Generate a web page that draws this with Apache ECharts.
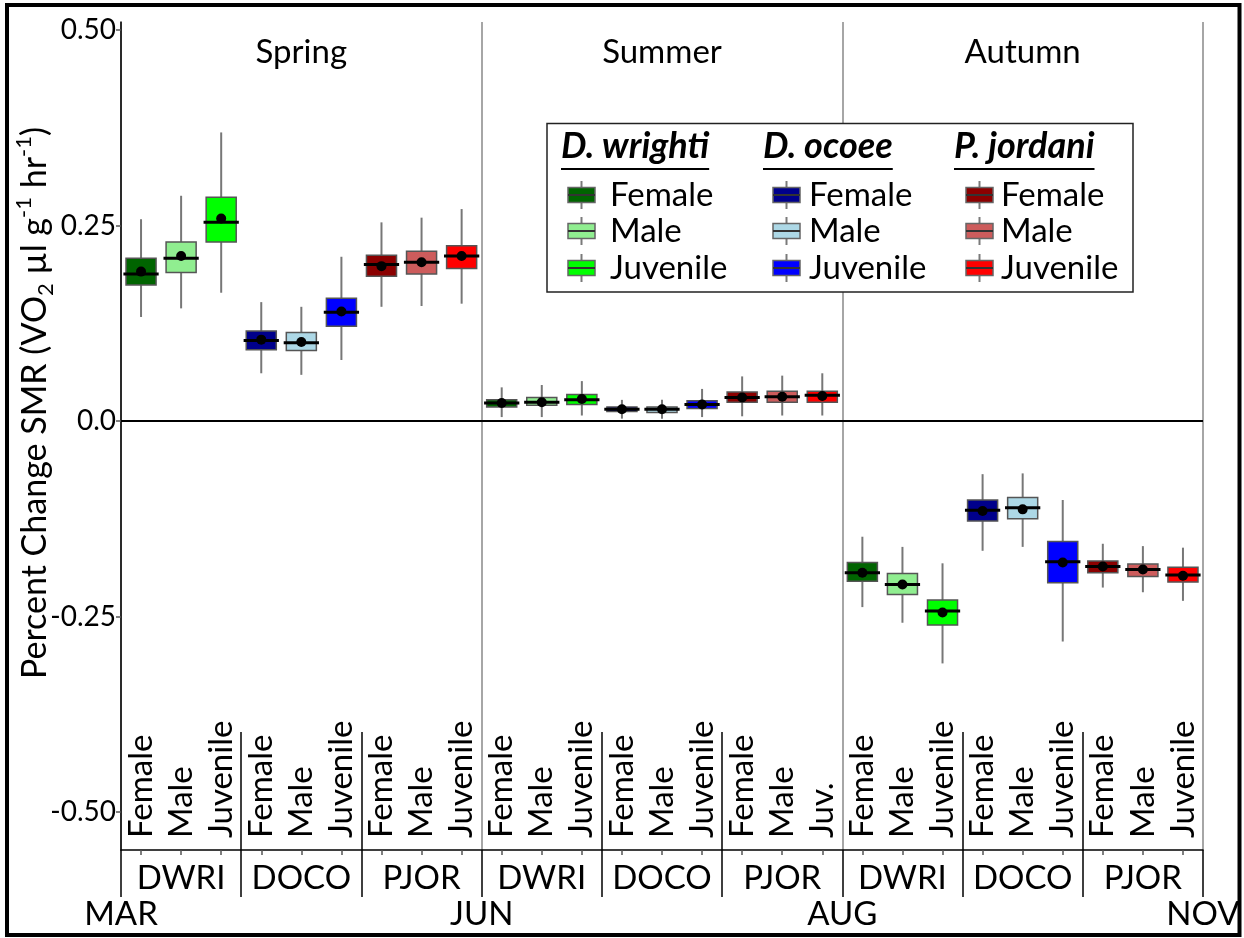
<!DOCTYPE html>
<html>
<head>
<meta charset="utf-8">
<script src="https://cdn.jsdelivr.net/npm/echarts@6/dist/echarts.min.js"></script>
<style>
  html, body { margin: 0; padding: 0; background: #fff; }
  #chart { width: 1244px; height: 938px; }
</style>
</head>
<body>
<div id="chart"></div>
<script>
const FONT = 'Lato';

const seasons = ['Spring', 'Summer', 'Autumn'];
const months = ['MAR', 'JUN', 'AUG', 'NOV'];
const speciesCodes = ['DWRI', 'DOCO', 'PJOR', 'DWRI', 'DOCO', 'PJOR', 'DWRI', 'DOCO', 'PJOR'];
const speciesNames = ['D. wrighti', 'D. ocoee', 'P. jordani'];
const sexes = ['Female', 'Male', 'Juvenile'];

// one rotated label per box along the bottom axis
const boxLabels = [
  'Female', 'Male', 'Juvenile', 'Female', 'Male', 'Juvenile', 'Female', 'Male', 'Juvenile',
  'Female', 'Male', 'Juvenile', 'Female', 'Male', 'Juvenile', 'Female', 'Male', 'Juv.',
  'Female', 'Male', 'Juvenile', 'Female', 'Male', 'Juvenile', 'Female', 'Male', 'Juvenile'
];

// boundaries (in box units) between species blocks and between seasons
const groupBounds = [0, 3, 6, 9, 12, 15, 18, 21, 24, 27];
const innerBounds = [3, 6, 12, 15, 21, 24];
const monthBounds = [0, 9, 18, 27];

const yTicks = [-0.5, -0.25, 0, 0.25, 0.5];
const yTickLabels = ['-0.50', '-0.25', '0.0', '0.25', '0.50'];

// rows: Spring, Summer, Autumn
// columns: lower whisker, Q1, median, Q3, upper whisker, mean
const dwriFemale = [
  [0.133, 0.174, 0.188, 0.208, 0.258, 0.191],
  [0.005, 0.018, 0.023, 0.027, 0.043, 0.023],
  [-0.238, -0.205, -0.194, -0.181, -0.148, -0.194]
];
const dwriMale = [
  [0.144, 0.190, 0.208, 0.229, 0.288, 0.211],
  [0.005, 0.020, 0.024, 0.030, 0.046, 0.024],
  [-0.258, -0.222, -0.209, -0.195, -0.161, -0.209]
];
const dwriJuvenile = [
  [0.164, 0.229, 0.254, 0.286, 0.369, 0.259],
  [0.007, 0.021, 0.027, 0.034, 0.051, 0.028],
  [-0.310, -0.261, -0.243, -0.229, -0.182, -0.245]
];
const docoFemale = [
  [0.061, 0.091, 0.103, 0.115, 0.152, 0.104],
  [0.003, 0.012, 0.015, 0.018, 0.027, 0.015],
  [-0.166, -0.128, -0.114, -0.101, -0.068, -0.115]
];
const docoMale = [
  [0.059, 0.090, 0.100, 0.113, 0.146, 0.101],
  [0.003, 0.011, 0.015, 0.018, 0.027, 0.015],
  [-0.161, -0.125, -0.111, -0.098, -0.067, -0.113]
];
const docoJuvenile = [
  [0.078, 0.121, 0.139, 0.157, 0.210, 0.140],
  [0.005, 0.016, 0.021, 0.026, 0.041, 0.021],
  [-0.282, -0.207, -0.180, -0.154, -0.101, -0.181]
];
const pjorFemale = [
  [0.146, 0.185, 0.200, 0.212, 0.254, 0.198],
  [0.006, 0.024, 0.030, 0.037, 0.057, 0.030],
  [-0.213, -0.194, -0.186, -0.179, -0.157, -0.186]
];
const pjorMale = [
  [0.147, 0.188, 0.203, 0.217, 0.260, 0.203],
  [0.007, 0.024, 0.031, 0.038, 0.058, 0.031],
  [-0.219, -0.199, -0.190, -0.183, -0.160, -0.190]
];
const pjorJuvenile = [
  [0.150, 0.195, 0.211, 0.224, 0.271, 0.211],
  [0.007, 0.024, 0.033, 0.038, 0.061, 0.032],
  [-0.230, -0.206, -0.197, -0.187, -0.162, -0.198]
];

const dwriColors = ['#006400', '#90EE90', '#00FF00'];
const docoColors = ['#00008B', '#ADD8E6', '#0000FF'];
const pjorColors = ['#8B0000', '#CD5C5C', '#FF0000'];

const groups = [
  [dwriFemale, dwriMale, dwriJuvenile],
  [docoFemale, docoMale, docoJuvenile],
  [pjorFemale, pjorMale, pjorJuvenile]
];
const groupColors = [dwriColors, docoColors, pjorColors];

// box, whiskers, median bar and mean dot for one item
function renderBox(params, api) {
  const cat = api.value(0);
  const band = api.size([1, 0])[0];
  const x = api.coord([cat, 0])[0];
  const y = (i) => api.coord([cat, api.value(i)])[1];
  const yLo = y(1), yQ1 = y(2), yMed = y(3), yQ3 = y(4), yHi = y(5), yMean = y(6);
  const bw = band * 0.75;
  const mw = band * 0.88;
  const color = api.visual('color');
  return {
    type: 'group',
    children: [
      { type: 'line', shape: { x1: x, y1: yHi, x2: x, y2: yLo },
        style: { stroke: '#777777', lineWidth: 2 } },
      { type: 'rect', shape: { x: x - bw / 2, y: yQ3, width: bw, height: yQ1 - yQ3 },
        style: { fill: color, stroke: '#555555', lineWidth: 1.5 } },
      { type: 'line', shape: { x1: x - mw / 2, y1: yMed, x2: x + mw / 2, y2: yMed },
        style: { stroke: '#000000', lineWidth: 3 } },
      { type: 'circle', shape: { cx: x, cy: yMean, r: 5 },
        style: { fill: '#000000' } }
    ]
  };
}

const series = [];
groups.forEach((grp, g) => {
  grp.forEach((rows, s) => {
    const data = rows.map((r, season) => [season * 9 + g * 3 + s].concat(r));
    const item = {
      name: speciesNames[g] + ' ' + sexes[s],
      type: 'custom',
      renderItem: renderBox,
      xAxisIndex: 0,
      yAxisIndex: 0,
      itemStyle: { color: groupColors[g][s] },
      encode: { x: 0, y: [1, 2, 3, 4, 5, 6] },
      data: data,
      z: 5
    };
    if (series.length === 0) {
      item.markLine = {
        silent: true,
        symbol: 'none',
        label: { show: false },
        lineStyle: { color: '#000000', width: 2, type: 'solid' },
        data: [{ yAxis: 0 }],
        z: 3
      };
    }
    series.push(item);
  });
});

// text width helper for the underlined legend headers
const measureCtx = document.createElement('canvas').getContext('2d');
function textWidth(str, font) {
  measureCtx.font = font;
  return measureCtx.measureText(str).width;
}

const headerFont = 'italic bold 36px ' + FONT;
const legendHeaderX = [561, 763, 954];
const legendIconX = [568, 773, 966];
const legendTextX = [610, 809, 1001];
const legendRowY = [195, 231, 268];

const legendElements = [
  { type: 'rect', shape: { x: 547, y: 123.5, width: 586, height: 168.5 },
    style: { fill: '#ffffff', stroke: '#222222', lineWidth: 1.5 }, z: 20 }
];
speciesNames.forEach((nm, g) => {
  const w = textWidth(nm, headerFont);
  legendElements.push({
    type: 'text', x: legendHeaderX[g], y: 164, z: 21,
    style: { text: nm, font: headerFont, fill: '#000', align: 'left', verticalAlign: 'bottom' }
  });
  legendElements.push({
    type: 'line', z: 21,
    shape: { x1: legendHeaderX[g], y1: 169, x2: legendHeaderX[g] + w, y2: 169 },
    style: { stroke: '#000', lineWidth: 2 }
  });
  sexes.forEach((sx, s) => {
    const cy = legendRowY[s];
    const cx = legendIconX[g] + 13.5;
    legendElements.push(
      { type: 'line', z: 21, shape: { x1: cx, y1: cy - 14, x2: cx, y2: cy + 14 },
        style: { stroke: '#7a7a7a', lineWidth: 2 } },
      { type: 'rect', z: 22, shape: { x: cx - 13.5, y: cy - 7.5, width: 27, height: 15 },
        style: { fill: groupColors[g][s], stroke: '#666666', lineWidth: 1.5 } },
      { type: 'line', z: 23, shape: { x1: cx - 13.5, y1: cy, x2: cx + 13.5, y2: cy },
        style: { stroke: '#333333', lineWidth: 2 } },
      { type: 'text', z: 21, x: legendTextX[g], y: cy,
        style: { text: sx, font: '33px ' + FONT, fill: '#000', align: 'left', verticalAlign: 'middle' } }
    );
  });
});

const chart = echarts.init(document.getElementById('chart'), null, { renderer: 'canvas' });

const textBase = { fontFamily: FONT, color: '#000000' };
const hiddenLine = { show: false, onZero: false };

chart.setOption({
  animation: false,
  backgroundColor: '#ffffff',
  grid: { left: 121, right: 41, top: 22, bottom: 88, containLabel: false, outerBoundsMode: 'none' },
  xAxis: [
    {
      // one slot per box: rotated sex labels inside, small centre ticks outside
      type: 'category', data: boxLabels, position: 'bottom', boundaryGap: true,
      axisLine: { show: true, onZero: false, lineStyle: { color: '#000000', width: 1.5 } },
      axisTick: { show: true, alignWithLabel: true, interval: 0, length: 5, lineStyle: { color: '#555555', width: 1.5 } },
      axisLabel: Object.assign({ inside: true, rotate: 90, interval: 0, margin: 12, fontSize: 33 }, textBase),
      splitLine: { show: false }
    },
    {
      // species code labels under each block of three boxes
      type: 'category', data: speciesCodes, position: 'bottom', boundaryGap: true,
      axisLine: hiddenLine,
      axisTick: { show: false },
      axisLabel: Object.assign({ interval: 0, margin: 12, fontSize: 33 }, textBase),
      splitLine: { show: false }
    },
    {
      // block separators below the axis line
      type: 'value', min: 0, max: 27, position: 'bottom',
      axisLine: hiddenLine,
      axisTick: { show: true, customValues: groupBounds, length: 47, lineStyle: { color: '#000000', width: 1.5 } },
      axisLabel: { show: false },
      splitLine: { show: false }
    },
    {
      // block separators running up through the rotated labels
      type: 'value', min: 0, max: 27, position: 'bottom',
      axisLine: hiddenLine,
      axisTick: { show: true, inside: true, customValues: innerBounds, length: 118, lineStyle: { color: '#000000', width: 1.5 } },
      axisLabel: { show: false },
      splitLine: { show: false }
    },
    {
      // month labels at the season boundaries
      type: 'value', min: 0, max: 27, position: 'bottom',
      axisLine: hiddenLine,
      axisTick: { show: false },
      axisLabel: Object.assign({
        customValues: monthBounds, margin: 48, fontSize: 33, hideOverlap: false,
        formatter: (v) => months[monthBounds.indexOf(v)]
      }, textBase),
      splitLine: { show: false }
    },
    {
      // season titles and the grey season dividers
      type: 'category', data: seasons, position: 'top', boundaryGap: true,
      axisLine: hiddenLine,
      axisTick: { show: false },
      axisLabel: Object.assign({ inside: true, interval: 0, margin: 14, fontSize: 33 }, textBase),
      splitLine: { show: true, interval: 0, lineStyle: { color: '#a6a6a6', width: 2 } }
    }
  ],
  yAxis: {
    type: 'value', min: -0.5486, max: 0.5102,
    axisLine: { show: true, onZero: false, lineStyle: { color: '#000000', width: 1.5 } },
    axisTick: { show: true, customValues: yTicks, length: 5, lineStyle: { color: '#555555', width: 1.5 } },
    axisLabel: Object.assign({
      customValues: yTicks, margin: 5, fontSize: 28,
      formatter: (v) => yTickLabels[yTicks.indexOf(v)]
    }, textBase),
    splitLine: { show: false }
  },
  graphic: [
    { type: 'rect', shape: { x: 7, y: 5, width: 1232.5, height: 930 },
      style: { fill: 'none', stroke: '#000000', lineWidth: 4 }, z: 30, silent: true },
    {
      type: 'text', x: 35, y: 403, rotation: Math.PI / 2, z: 10,
      style: {
        text: 'Percent Change SMR (VO{sub|2} µl g{sup|-1} hr{sup|-1})',
        font: '34px ' + FONT, fill: '#000', align: 'center', verticalAlign: 'middle',
        lineHeight: 44,
        rich: {
          sub: { fontSize: 22, fontFamily: FONT, verticalAlign: 'bottom', lineHeight: 44 },
          sup: { fontSize: 22, fontFamily: FONT, verticalAlign: 'top', lineHeight: 30 }
        }
      }
    },
    { type: 'group', children: legendElements }
  ],
  series: series
});
</script>
</body>
</html>
